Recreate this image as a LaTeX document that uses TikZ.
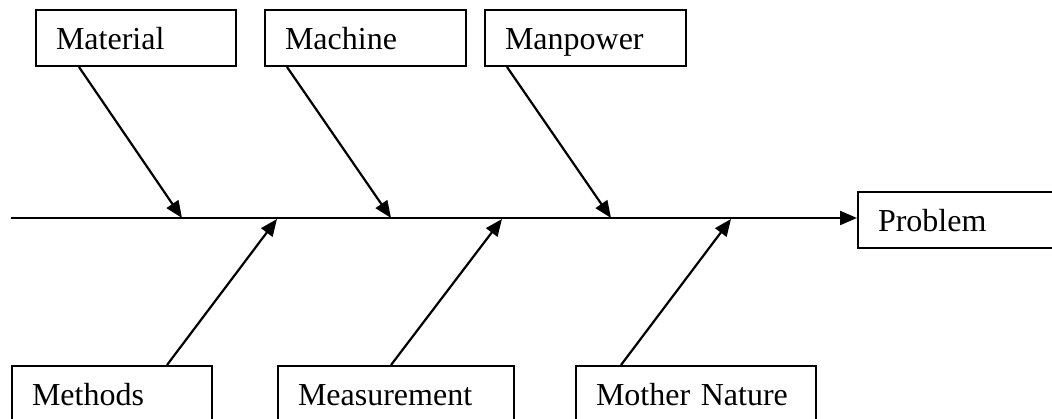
\documentclass[tikz,border=0pt]{standalone}
\usepackage{fontspec}
\setmainfont{Liberation Serif}
\usetikzlibrary{arrows.meta}
\begin{document}
\begin{tikzpicture}[x=1pt,y=-1pt,
    cause/.style={draw,line width=2pt,minimum height=56pt,inner xsep=20pt,align=left,
      font=\fontsize{32}{36}\selectfont,text height=26pt,text depth=2pt},
    bone/.style={line width=2.2pt,-{Triangle[length=17pt,width=14pt]}}]
  \useasboundingbox (0,0) rectangle (1052,419);
  \node[cause,text width=160pt] (material) at (136,38) {Material};
  \node[cause,text width=161pt] (machine) at (365.5,38) {Machine};
  \node[cause,text width=161pt] (manpower) at (585.5,38) {Manpower};
  \node[cause,text width=160pt] (methods) at (112,394) {Methods};
  \node[cause,text width=196pt] (measurement) at (396,394) {Measurement};
  \node[cause,text width=200pt] (nature) at (696,394) {Mother Nature};
  \node[cause,text width=180pt] (problem) at (968,220) {Problem};
  \coordinate (spine) at (11,218);
  \coordinate (a1) at (182,218);
  \coordinate (a2) at (391,218);
  \coordinate (a3) at (611,218);
  \coordinate (b1) at (277,219);
  \coordinate (b2) at (502,219);
  \coordinate (b3) at (731,219);
  \draw[bone] (spine) -- (spine -| problem.west);
  \draw[bone] ([xshift=44pt]material.south west) -- (a1);
  \draw[bone] ([xshift=23pt]machine.south west) -- (a2);
  \draw[bone] ([xshift=23pt]manpower.south west) -- (a3);
  \draw[bone] ([xshift=156pt]methods.north west) -- (b1);
  \draw[bone] ([xshift=114pt]measurement.north west) -- (b2);
  \draw[bone] ([xshift=46pt]nature.north west) -- (b3);
\end{tikzpicture}
\end{document}
